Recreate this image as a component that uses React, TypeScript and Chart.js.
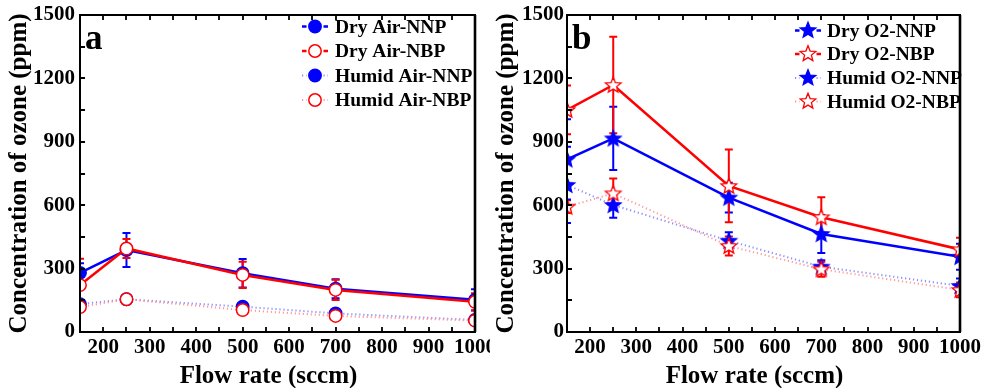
import React, { useEffect, useRef } from "react";
import { Chart, registerables } from "chart.js";

Chart.register(...registerables);

// Flow rates (sccm) shared by both panels
const flowRates = [150, 250, 500, 700, 1000];
const xTickValues = [200, 300, 400, 500, 600, 700, 800, 900, 1000];
const yTickValues = [0, 300, 600, 900, 1200, 1500];

// Panel a: air feed gas (ppm)
const dryAirNNP = [280, 388, 278, 205, 152];
const dryAirNNPErr = [45, 80, 68, 45, 50];
const dryAirNBP = [222, 395, 270, 199, 143];
const dryAirNBPErr = [125, 45, 62, 48, 40];
const humidAirNNP = [132, 155, 120, 88, 57];
const humidAirNNPErr = [15, 12, 12, 12, 20];
const humidAirNBP = [118, 155, 104, 76, 54];
const humidAirNBPErr = [20, 12, 15, 12, 15];

// Panel b: oxygen feed gas (ppm)
const dryO2NNP = [817, 916, 636, 464, 356];
const dryO2NNPErr = [190, 150, 70, 90, 62];
const dryO2NBP = [1051, 1169, 691, 543, 391];
const dryO2NBPErr = [115, 228, 172, 95, 55];
const humidO2NNP = [696, 601, 432, 309, 218];
const humidO2NNPErr = [180, 60, 40, 30, 35];
const humidO2NBP = [593, 656, 407, 297, 199];
const humidO2NBPErr = [30, 70, 45, 35, 35];

const BLUE = "#0000ff";
const RED = "#ff0000";
const HUMID_BLUE = "#8c8cff";
const HUMID_RED = "#ff9a9a";
const SERIF = "'Liberation Serif', 'Times New Roman', serif";

type Series = {
  name: string;
  values: number[];
  errors: number[];
  color: string;
  lineColor: string;
  humid: boolean;
  filled: boolean;
  order: number;
};

type PanelSpec = {
  letter: string;
  left: number;
  width: number;
  axisWidth: number;
  padRight: number;
  marker: "circle" | "star";
  legendMarkerX: number;
  legendTextX: number;
  legendRows: number[];
  yTitleX: number;
  series: Series[];
};

function starPath(g: CanvasRenderingContext2D, cx: number, cy: number, ro: number, ri: number) {
  g.beginPath();
  for (let i = 0; i < 10; i++) {
    const r = i % 2 === 0 ? ro : ri;
    const a = -Math.PI / 2 + (i * Math.PI) / 5;
    const px = cx + r * Math.cos(a);
    const py = cy + r * Math.sin(a);
    if (i === 0) g.moveTo(px, py);
    else g.lineTo(px, py);
  }
  g.closePath();
}

function drawStar(g: CanvasRenderingContext2D, cx: number, cy: number, filled: boolean, color: string) {
  starPath(g, cx, cy, 8.2, 3.6);
  g.fillStyle = filled ? color : "#ffffff";
  g.fill();
  g.lineWidth = 1.3;
  g.strokeStyle = color;
  g.stroke();
}

function makeStarImage(filled: boolean, color: string): HTMLCanvasElement {
  const c = document.createElement("canvas");
  c.width = 20;
  c.height = 20;
  const g = c.getContext("2d")!;
  drawStar(g, 10, 10.5, filled, color);
  return c;
}

function drawCircle(g: CanvasRenderingContext2D, cx: number, cy: number, filled: boolean, color: string) {
  g.beginPath();
  g.arc(cx, cy, 6.2, 0, Math.PI * 2);
  g.fillStyle = filled ? color : "#ffffff";
  g.fill();
  g.lineWidth = 1.5;
  g.strokeStyle = color;
  g.stroke();
}

const panelA: PanelSpec = {
  letter: "a",
  left: 0,
  width: 490,
  axisWidth: 80,
  padRight: 15,
  marker: "circle",
  legendMarkerX: 315,
  legendTextX: 335,
  legendRows: [26.5, 51, 75.5, 100],
  yTitleX: 19,
  series: [
    { name: "Dry Air-NNP", values: dryAirNNP, errors: dryAirNNPErr, color: BLUE, lineColor: BLUE, humid: false, filled: true, order: 1 },
    { name: "Dry Air-NBP", values: dryAirNBP, errors: dryAirNBPErr, color: RED, lineColor: RED, humid: false, filled: false, order: 0 },
    { name: "Humid Air-NNP", values: humidAirNNP, errors: humidAirNNPErr, color: BLUE, lineColor: HUMID_BLUE, humid: true, filled: true, order: 3 },
    { name: "Humid Air-NBP", values: humidAirNBP, errors: humidAirNBPErr, color: RED, lineColor: HUMID_RED, humid: true, filled: false, order: 2 },
  ],
};

const panelB: PanelSpec = {
  letter: "b",
  left: 490,
  width: 497,
  axisWidth: 77,
  padRight: 27,
  marker: "star",
  legendMarkerX: 318,
  legendTextX: 337,
  legendRows: [30.5, 54, 78, 101.5],
  yTitleX: 16,
  series: [
    { name: "Dry O2-NNP", values: dryO2NNP, errors: dryO2NNPErr, color: BLUE, lineColor: BLUE, humid: false, filled: true, order: 1 },
    { name: "Dry O2-NBP", values: dryO2NBP, errors: dryO2NBPErr, color: RED, lineColor: RED, humid: false, filled: false, order: 0 },
    { name: "Humid O2-NNP", values: humidO2NNP, errors: humidO2NNPErr, color: BLUE, lineColor: HUMID_BLUE, humid: true, filled: true, order: 3 },
    { name: "Humid O2-NBP", values: humidO2NBP, errors: humidO2NBPErr, color: RED, lineColor: HUMID_RED, humid: true, filled: false, order: 2 },
  ],
};

function buildChart(canvas: HTMLCanvasElement, spec: PanelSpec): Chart {
  const starImages = spec.series.map((s) => makeStarImage(s.filled, s.color));

  const datasets = spec.series.map((s, i) => ({
    label: s.name,
    data: flowRates.map((x, j) => ({ x, y: s.values[j] })),
    borderColor: s.lineColor,
    borderWidth: s.humid ? 2 : 2.6,
    borderDash: s.humid ? [1.2, 2.8] : [],
    tension: 0,
    fill: false,
    clip: 0,
    order: s.order,
    pointStyle: spec.marker === "star" ? (starImages[i] as any) : "circle",
    pointRadius: 6.2,
    pointBorderWidth: 1.5,
    pointBorderColor: s.color,
    pointBackgroundColor: s.filled ? s.color : "#ffffff",
  }));

  const tickFont = { family: SERIF, size: 21, weight: "bold" as const };

  const overlay = {
    id: "overlay",
    beforeDatasetsDraw(chart: Chart) {
      const { ctx, chartArea: a } = chart;
      const xs = chart.scales.x;
      const ys = chart.scales.y;
      ctx.save();
      ctx.beginPath();
      ctx.rect(a.left, a.top, a.right - a.left, a.bottom - a.top);
      ctx.clip();
      const ordered = [...spec.series].sort((p, q) => q.order - p.order);
      for (const s of ordered) {
        ctx.strokeStyle = s.color;
        ctx.lineWidth = 2;
        s.values.forEach((v, j) => {
          const px = xs.getPixelForValue(flowRates[j]);
          const top = ys.getPixelForValue(v + s.errors[j]);
          const bot = ys.getPixelForValue(v - s.errors[j]);
          ctx.beginPath();
          ctx.moveTo(px, top);
          ctx.lineTo(px, bot);
          ctx.moveTo(px - 4, top);
          ctx.lineTo(px + 4, top);
          ctx.moveTo(px - 4, bot);
          ctx.lineTo(px + 4, bot);
          ctx.stroke();
        });
      }
      ctx.restore();
    },
    afterDraw(chart: Chart) {
      const { ctx, chartArea: a } = chart;
      const xs = chart.scales.x;
      const ys = chart.scales.y;
      ctx.save();

      // frame
      ctx.strokeStyle = "#000";
      ctx.lineWidth = 2;
      ctx.strokeRect(a.left, a.top, a.right - a.left, a.bottom - a.top);
      ctx.lineWidth = 2.6;
      ctx.beginPath();
      ctx.moveTo(a.right, a.top);
      ctx.lineTo(a.right, a.bottom);
      ctx.stroke();

      // inward ticks: bottom and top every 50 sccm, left every 150 ppm
      ctx.lineWidth = 1.8;
      ctx.beginPath();
      for (let v = 200; v < 1000; v += 50) {
        const px = Math.round(xs.getPixelForValue(v));
        ctx.moveTo(px, a.bottom);
        ctx.lineTo(px, a.bottom - 5);
        ctx.moveTo(px, a.top);
        ctx.lineTo(px, a.top + 5);
      }
      for (let v = 150; v < 1500; v += 150) {
        const py = Math.round(ys.getPixelForValue(v));
        ctx.moveTo(a.left, py);
        ctx.lineTo(a.left + 5, py);
      }
      ctx.stroke();

      // panel letter
      ctx.fillStyle = "#000";
      ctx.font = `bold 35px ${SERIF}`;
      ctx.textAlign = "left";
      ctx.textBaseline = "alphabetic";
      ctx.fillText(spec.letter, a.left + 5, 48.5);

      // legend
      ctx.font = `bold 19.5px ${SERIF}`;
      ctx.textBaseline = "middle";
      spec.series.forEach((s, i) => {
        const y = spec.legendRows[i];
        const mx = spec.legendMarkerX;
        ctx.save();
        ctx.strokeStyle = s.lineColor;
        ctx.lineWidth = s.humid ? 2 : 2.6;
        ctx.setLineDash(s.humid ? [1.2, 2.8] : []);
        ctx.beginPath();
        ctx.moveTo(mx - 13, y);
        ctx.lineTo(mx - 8.5, y);
        ctx.moveTo(mx + 8.5, y);
        ctx.lineTo(mx + 13, y);
        ctx.stroke();
        ctx.restore();
        if (spec.marker === "star") drawStar(ctx, mx, y, s.filled, s.color);
        else drawCircle(ctx, mx, y, s.filled, s.color);
        ctx.fillStyle = "#000";
        ctx.fillText(s.name, spec.legendTextX, y + 1);
      });

      // axis titles
      ctx.font = `bold 25px ${SERIF}`;
      ctx.textAlign = "center";
      ctx.textBaseline = "middle";
      ctx.fillText("Flow rate (sccm)", (a.left + a.right) / 2 - 9, 377);
      ctx.translate(spec.yTitleX, (a.top + a.bottom) / 2);
      ctx.rotate(-Math.PI / 2);
      ctx.fillText("Concentration of ozone (ppm)", 0, 1);
      ctx.restore();
    },
  };

  return new Chart(canvas, {
    type: "line",
    data: { datasets: datasets as any },
    options: {
      animation: false,
      responsive: false,
      devicePixelRatio: 1,
      layout: { padding: { left: 0, right: spec.padRight, top: 15, bottom: 0 } },
      plugins: { legend: { display: false }, tooltip: { enabled: false } },
      scales: {
        x: {
          type: "linear",
          min: 150,
          max: 1000,
          grid: { display: false, drawTicks: false },
          border: { display: false },
          ticks: {
            font: tickFont,
            color: "#000",
            padding: 3,
            autoSkip: false,
            maxRotation: 0,
            callback: (v: any) => String(v),
          },
          afterBuildTicks: (s: any) => {
            s.ticks = xTickValues.map((value) => ({ value }));
          },
          afterFit: (s: any) => {
            s.height = 56;
            s.paddingLeft = 0;
            s.paddingRight = 0;
          },
        },
        y: {
          type: "linear",
          min: 0,
          max: 1500,
          grid: { display: false, drawTicks: false },
          border: { display: false },
          ticks: {
            font: tickFont,
            color: "#000",
            padding: spec.letter === "a" ? 5 : 3,
            autoSkip: false,
            callback: (v: any) => String(v),
          },
          afterBuildTicks: (s: any) => {
            s.ticks = yTickValues.map((value) => ({ value }));
          },
          afterFit: (s: any) => {
            s.width = spec.axisWidth;
            s.paddingTop = 0;
            s.paddingBottom = 0;
          },
        },
      },
    },
    plugins: [overlay],
  });
}

function Panel({ spec }: { spec: PanelSpec }) {
  const ref = useRef<HTMLCanvasElement>(null);
  useEffect(() => {
    const chart = buildChart(ref.current!, spec);
    return () => chart.destroy();
  }, [spec]);
  return (
    <canvas
      ref={ref}
      width={spec.width}
      height={388}
      style={{ position: "absolute", left: spec.left, top: 0, width: spec.width, height: 388 }}
    />
  );
}

export default function App() {
  return (
    <div style={{ position: "fixed", left: 0, top: 0, width: 987, height: 388, background: "#fff", overflow: "hidden" }}>
      <Panel spec={panelA} />
      <Panel spec={panelB} />
    </div>
  );
}
